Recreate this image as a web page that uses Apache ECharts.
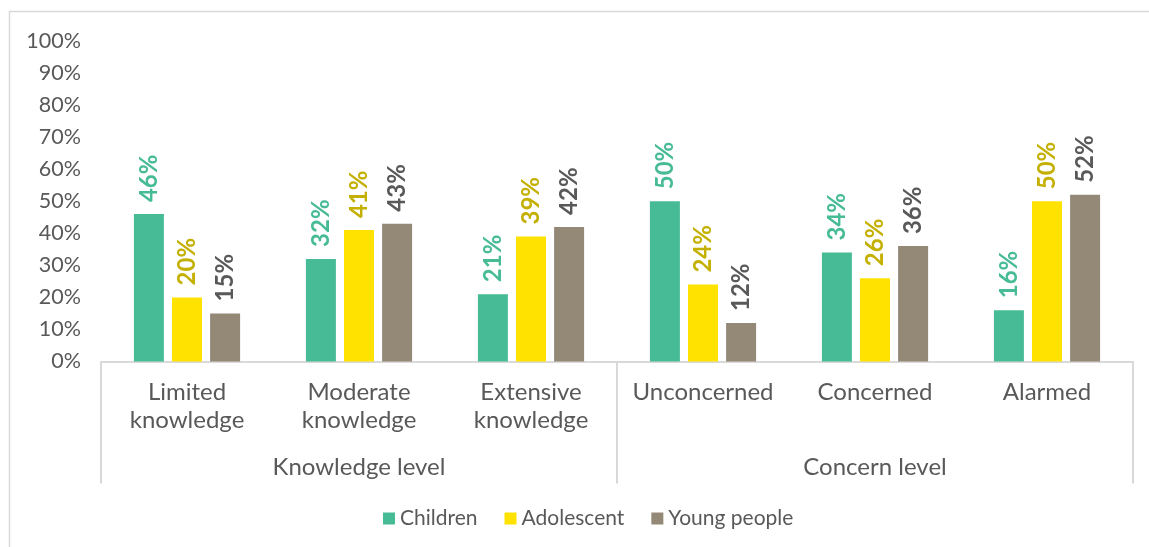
<!DOCTYPE html>
<html>
<head>
<meta charset="utf-8">
<script src="https://cdn.jsdelivr.net/npm/echarts@6/dist/echarts.min.js"></script>
<style>
  html, body { margin: 0; padding: 0; background: #fff; }
  #chart { width: 1149px; height: 547px; }
</style>
</head>
<body>
<div id="chart"></div>
<script>
// Categories, grouped under two headings
const categories = ['Limited\nknowledge', 'Moderate\nknowledge', 'Extensive\nknowledge', 'Unconcerned', 'Concerned', 'Alarmed'];
const groups = ['Knowledge level', 'Concern level'];
const yTicks = { min: 0, max: 100, interval: 10 };

// Share of respondents (%) per age group
const children   = [46, 32, 21, 50, 34, 16];
const adolescent = [20, 41, 39, 24, 26, 50];
const youngPeople = [15, 43, 42, 12, 36, 52];

const FONT = 'Lato';
const TEXT = '#595959';
const LINE = '#D9D9D9';

function barSeries(name, data, color, labelColor) {
  return {
    name: name,
    type: 'bar',
    data: data,
    barWidth: 30,
    barGap: '27%',
    itemStyle: { color: color },
    label: {
      show: true,
      position: 'top',
      rotate: 90,
      align: 'left',
      verticalAlign: 'middle',
      distance: 12,
      formatter: '{c}%',
      color: labelColor,
      fontFamily: FONT,
      fontSize: 24,
      fontWeight: 'bold'
    }
  };
}

const chart = echarts.init(document.getElementById('chart'), null, { renderer: 'canvas' });
chart.setOption({
  animation: false,
  backgroundColor: '#fff',
  textStyle: { fontFamily: FONT },
  graphic: [{
    type: 'rect',
    shape: { x: 9.5, y: 11.5, width: 1160, height: 560 },
    style: { fill: 'none', stroke: LINE, lineWidth: 1.5 },
    z: -1
  }],
  grid: { left: 101, right: 16, top: 41, bottom: 185.5, containLabel: false },
  legend: {
    data: ['Children', 'Adolescent', 'Young people'],
    top: 503,
    left: 378,
    icon: 'rect',
    itemWidth: 12,
    itemHeight: 12,
    itemGap: 27,
    textStyle: { color: TEXT, fontSize: 21, fontFamily: FONT, padding: [0, 0, 0, 0] }
  },
  xAxis: [{
    type: 'category',
    data: categories,
    position: 'bottom',
    axisLine: { lineStyle: { color: LINE, width: 2 } },
    axisTick: { show: false },
    axisLabel: {
      color: TEXT, fontSize: 24, fontFamily: FONT,
      lineHeight: 28, margin: 17, interval: 0
    }
  }, {
    type: 'category',
    data: groups,
    position: 'bottom',
    axisLine: { show: false },
    axisTick: { show: true, length: 122, lineStyle: { color: LINE, width: 2 } },
    axisLabel: {
      color: TEXT, fontSize: 24, fontFamily: FONT,
      lineHeight: 26, margin: 93, interval: 0
    }
  }],
  yAxis: {
    type: 'value',
    min: yTicks.min,
    max: yTicks.max,
    interval: yTicks.interval,
    axisLine: { show: false },
    axisTick: { show: false },
    splitLine: { show: false },
    axisLabel: { formatter: '{value}%', color: TEXT, fontSize: 21.5, fontFamily: FONT, margin: 20 }
  },
  series: [
    barSeries('Children', children, '#47BB96', '#47BB96'),
    barSeries('Adolescent', adolescent, '#FFE200', '#C4B000'),
    barSeries('Young people', youngPeople, '#948877', '#595959')
  ]
});
</script>
</body>
</html>
